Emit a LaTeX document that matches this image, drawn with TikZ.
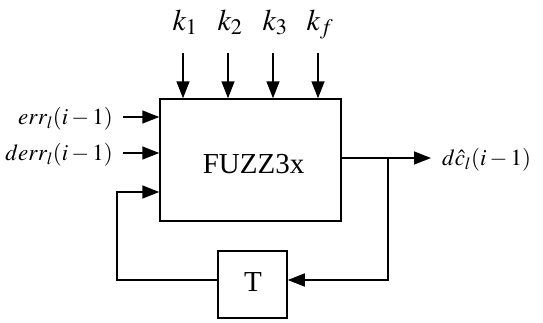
\documentclass[tikz,border=0pt]{standalone}
\usepackage{mathptmx}
\usepackage{fontspec}
\setmainfont{Liberation Serif}
\usetikzlibrary{arrows.meta}
\begin{document}
\begin{tikzpicture}[x=1pt,y=-1pt, line width=1.5pt,
  >={Triangle[length=17pt,width=13pt]},
  box/.style={draw, line width=1.5pt, inner sep=0pt},
  big/.style={font=\fontsize{29}{32}\selectfont},
  klbl/.style={font=\fontsize{30}{32}\selectfont, anchor=base},
  lbl/.style={font=\fontsize{23}{25}\selectfont}]
\useasboundingbox (0,0) rectangle (543,322);
% blocks
\node[box, minimum width=181pt, minimum height=122pt] (F) at (250.5,160) {};
\node[big, anchor=base] (Ft) at (253.5,173) {FUZZ3x};
\node[box, minimum width=69pt, minimum height=67pt] (T) at (252.5,284.5) {};
\node[big, anchor=base] (Tt) at (253,291) {T};
% top inputs
\foreach \x/\n/\s in {183/1/1, 228/2/2, 273/3/3, 318/4/f}{
  \coordinate (k\n) at (\x,53);
  \node[klbl] (kl\n) at (\x+2,30) {$k_{\s}$};
  \draw[->] (k\n) -- (k\n |- F.north);
}
% left inputs
\coordinate (e1) at (123,117);
\coordinate (e2) at (123,153);
\node[lbl, anchor=east] (el1) at (117,119) {$err_l(i-1)$};
\node[lbl, anchor=east] (el2) at (117,155) {$derr_l(i-1)$};
\draw[->] (e1) -- (e1 -| F.west);
\draw[->] (e2) -- (e2 -| F.west);
% output
\coordinate (o1) at (341,158);
\coordinate (o2) at (431,158);
\node[lbl, anchor=west] (ol) at (438,160) {$d\hat{c}_l(i-1)$};
\draw[->] (o1 -| F.east) -- (o2);
% feedback
\coordinate (fb1) at (388,158);
\coordinate (fb2) at (388,280);
\coordinate (fb3) at (117,280);
\coordinate (fb4) at (117,192);
\draw[->] (fb1) -- (fb2) -- (fb2 -| T.east);
\draw[->] (fb3 -| T.west) -- (fb3) -- (fb4) -- (fb4 -| F.west);
\end{tikzpicture}
\end{document}
